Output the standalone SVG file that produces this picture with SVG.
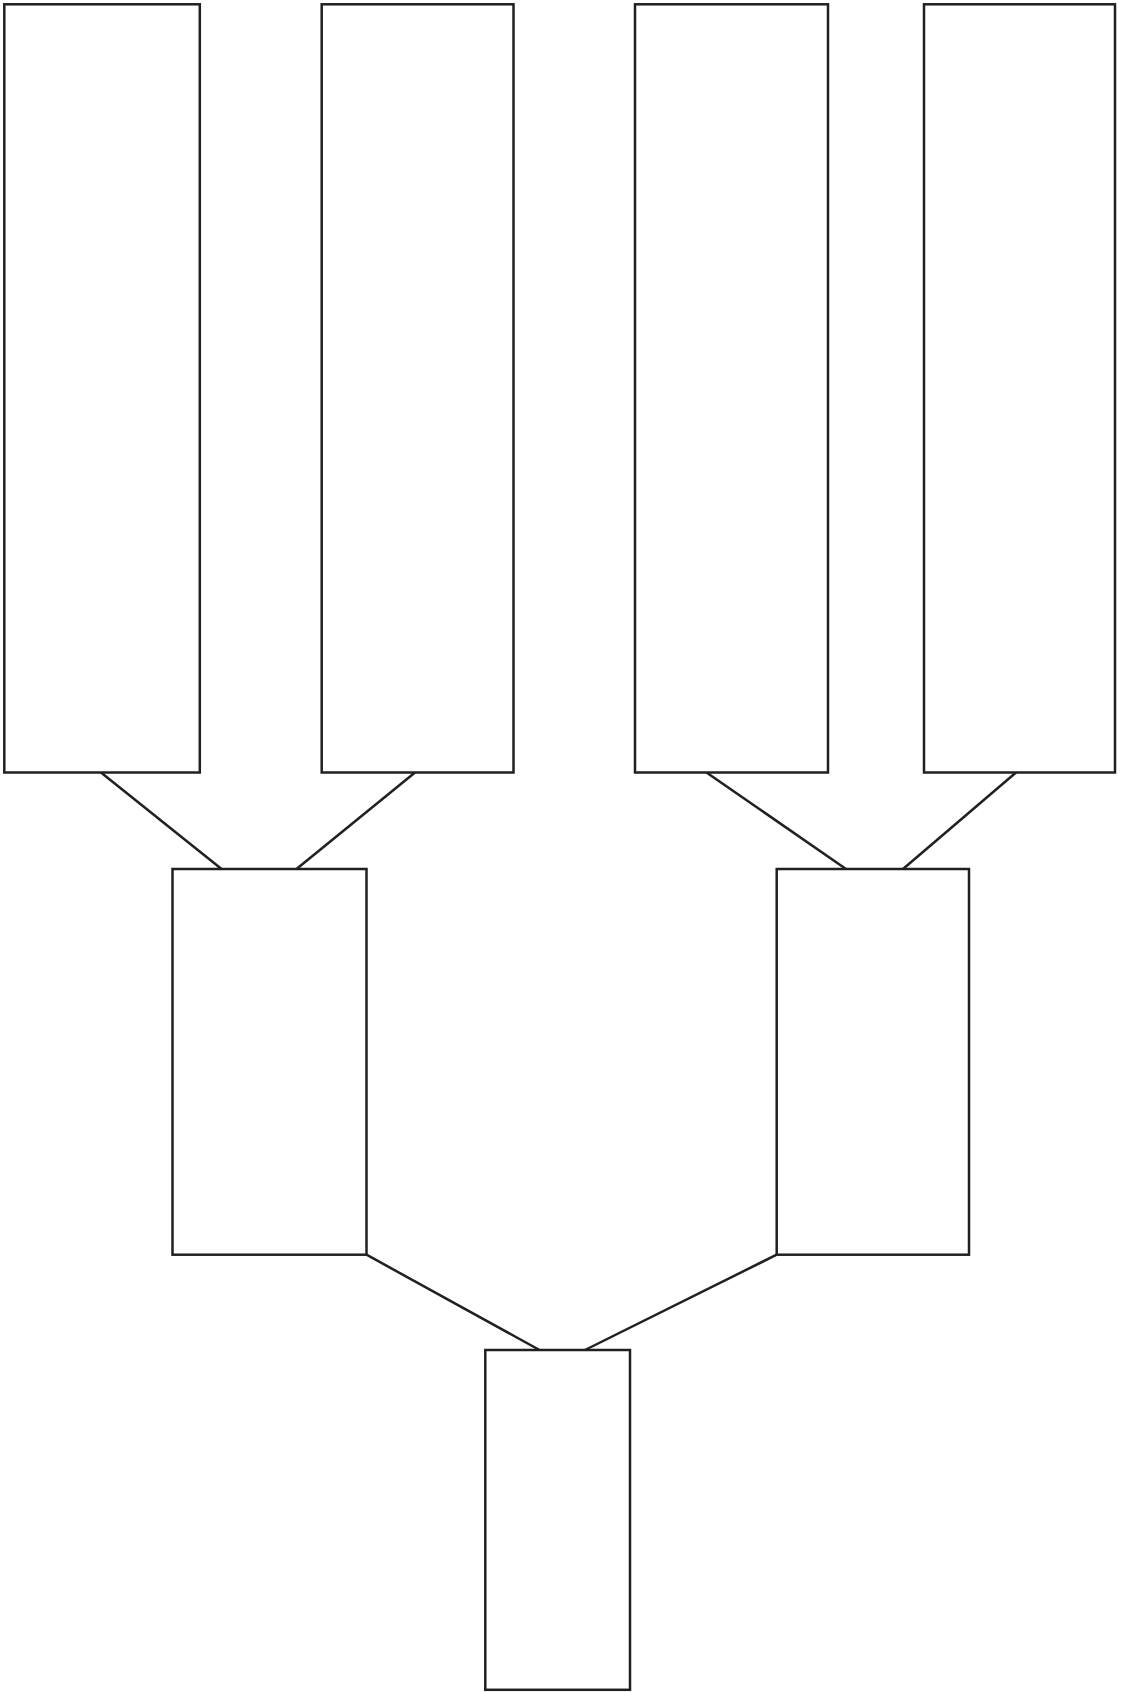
<svg xmlns="http://www.w3.org/2000/svg" width="1121" height="1692" viewBox="0 0 1121 1692">
<style>
.box{fill:#ffffff;stroke:#231f20;stroke-width:2.5}
.conn line{stroke:#231f20;stroke-width:2.5;fill:none}
</style>
<rect x="0" y="0" width="1121" height="1692" fill="#ffffff"/>
<g id="connectors" class="conn">
<line x1="101" y1="772.5" x2="221.5" y2="869"/>
<line x1="415" y1="772.5" x2="296.5" y2="869"/>
<line x1="706.5" y1="772.5" x2="846" y2="869"/>
<line x1="1016" y1="772.5" x2="903" y2="869"/>
<line x1="366.5" y1="1254.7" x2="539.5" y2="1350"/>
<line x1="776.7" y1="1254.7" x2="585" y2="1350"/>
</g>
<g id="top1"><rect class="box" x="4.3" y="4.3" width="195.5" height="768.2"/></g>
<g id="top2"><rect class="box" x="321.7" y="4.3" width="191.8" height="768.2"/></g>
<g id="top3"><rect class="box" x="635" y="4.3" width="193" height="768.2"/></g>
<g id="top4"><rect class="box" x="924" y="4.3" width="191" height="768.2"/></g>
<g id="mid1"><rect class="box" x="172.5" y="869" width="194" height="385.7"/></g>
<g id="mid2"><rect class="box" x="776.7" y="869" width="192.3" height="385.7"/></g>
<g id="bottom"><rect class="box" x="485.3" y="1350" width="144.7" height="339.8"/></g>
</svg>
